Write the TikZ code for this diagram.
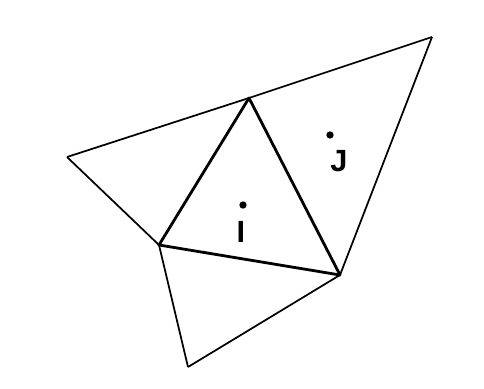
\documentclass[tikz,border=0pt]{standalone}
\usepackage{fontspec}
\setmainfont{Liberation Sans}

\tikzset{every picture/.style={line width=0.75pt}}
\tikzset{
  thinedge/.style={line width=1.3pt, line join=round},
  thickedge/.style={line width=2.1pt, line join=round},
  site/.style={circle, fill=black, inner sep=0pt, minimum size=5.5pt},
  sitelabel/.style={inner sep=0.75pt, font=\fontsize{23}{23}\selectfont\bfseries}
}

\begin{document}
\begin{tikzpicture}[x=0.75pt,y=0.75pt,yscale=-1,xscale=1]
			\useasboundingbox (0,0) rectangle (484,388);
			
			% Vertices
			\coordinate (top) at (249,98);
			\coordinate (left) at (67,157);
			\coordinate (mid) at (159,245);
			\coordinate (right) at (340,275);
			\coordinate (far) at (432,37);
			\coordinate (bottom) at (188,367);
			
			%Straight Lines outer triangles
			\draw [thinedge]  (left) -- (top) ;
			\draw [thinedge]  (left) -- (mid) ;
			\draw [thinedge]  (top) -- (far) ;
			\draw [thinedge]  (far) -- (right) ;
			\draw [thinedge]  (mid) -- (bottom) ;
			\draw [thinedge]  (bottom) -- (right) ;
			%Straight Lines middle triangle
			\draw [thickedge]  (top) -- (mid) -- (right) -- cycle ;
			
			% Sites
			\node [site] (i) at (243,205) {};
			\node [site] (j) at (330,135) {};
			% Text Node
			\node [sitelabel, anchor=north] (ilabel) at (241,220) {I};
			% Text Node
			\node [sitelabel, anchor=north] (jlabel) at (339,149) {J};
		\end{tikzpicture}
\end{document}
